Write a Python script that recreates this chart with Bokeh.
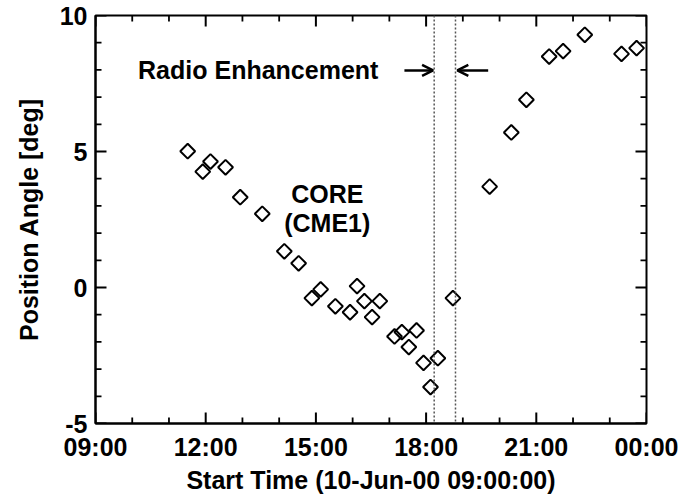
import numpy as np
from bokeh.plotting import figure
from bokeh.models import (Range1d, FixedTicker, Span, Arrow, OpenHead,
                          ColumnDataSource, Label)
from bokeh.embed import file_html
from bokeh.resources import INLINE

# ---- data (hours after 00:00 on 10-Jun-00; position angle in deg) ----
start_hours = [11.51, 11.92, 12.13, 12.54, 12.94, 13.54, 14.14, 14.53, 14.89, 15.13,
               15.53, 15.93, 16.12, 16.32, 16.53, 16.74, 17.14, 17.34, 17.53, 17.74,
               17.93, 18.12, 18.32, 18.73, 19.73, 20.32, 20.73, 21.35, 21.73, 22.32,
               23.32, 23.73]
position_angle = [5.01, 4.26, 4.63, 4.42, 3.32, 2.71, 1.33, 0.89, -0.39, -0.07,
                  -0.69, -0.91, 0.05, -0.50, -1.09, -0.50, -1.80, -1.64, -2.19, -1.58,
                  -2.77, -3.66, -2.60, -0.39, 3.71, 5.70, 6.90, 8.49, 8.69, 9.29,
                  8.59, 8.80]

x_major_ticks = [9, 12, 15, 18, 21, 24]
x_minor_ticks = [10, 11, 13, 14, 16, 17, 19, 20, 22, 23]
x_tick_labels = ["09:00", "12:00", "15:00", "18:00", "21:00", "00:00"]
y_major_ticks = [-5, 0, 5, 10]
y_minor_ticks = [-4, -3, -2, -1, 1, 2, 3, 4, 6, 7, 8, 9]
y_tick_labels = ["-5", "0", "5", "10"]

radio_start = 18.22
radio_end = 18.80

X0, X1, Y0, Y1 = 9, 24, -5, 10

FONT = "Liberation Sans"
FS = "25px"

W, H = 687, 496
FL, FR, FT, FB = 95, 646, 15, 423   # frame edges (figure coords)

p = figure(width=W, height=H, output_backend="svg", toolbar_location=None,
           x_range=Range1d(X0, X1), y_range=Range1d(Y0, Y1),
           min_border_left=FL, min_border_right=W - FR,
           min_border_top=FT, min_border_bottom=H - FB)
p.xgrid.visible = False
p.ygrid.visible = False
p.outline_line_color = "black"
p.outline_line_width = 2
p.background_fill_color = "white"
p.border_fill_color = "white"

for ax in (p.xaxis[0], p.yaxis[0]):
    ax.axis_line_width = 2
    ax.axis_line_color = "black"
    ax.major_tick_in = 0
    ax.major_tick_out = 0
    ax.minor_tick_in = 0
    ax.minor_tick_out = 0
    ax.major_label_text_font = FONT
    ax.major_label_text_font_size = FS
    ax.major_label_text_font_style = "bold"
    ax.major_label_text_color = "black"
    ax.axis_label_text_font = FONT
    ax.axis_label_text_font_size = FS
    ax.axis_label_text_font_style = "bold"
    ax.axis_label_text_color = "black"

p.xaxis.ticker = FixedTicker(ticks=x_major_ticks)
p.yaxis.ticker = FixedTicker(ticks=y_major_ticks)
p.xaxis.major_label_overrides = {t: l for t, l in zip(x_major_ticks, x_tick_labels)}
p.yaxis.major_label_overrides = {t: l for t, l in zip(y_major_ticks, y_tick_labels)}
p.xaxis.axis_label = "Start Time (10-Jun-00 09:00:00)"
p.yaxis.axis_label = "Position Angle [deg]"
p.xaxis.major_label_standoff = 9
p.xaxis.axis_label_standoff = 2
p.yaxis.major_label_standoff = 8
p.yaxis.axis_label_standoff = 14

# inward tick marks on all four sides (lengths converted from pixels to data units)
dx = (X1 - X0) / (FR - FL)
dy = (Y1 - Y0) / (FB - FT)
for xs, ys, L, w in ((x_major_ticks, y_major_ticks, 11, 2.0),
                     (x_minor_ticks, y_minor_ticks, 6, 1.8)):
    xs = np.array(xs, dtype=float)
    ys = np.array(ys, dtype=float)
    nx, ny = len(xs), len(ys)
    p.segment(x0=xs, y0=np.full(nx, Y0), x1=xs, y1=np.full(nx, Y0 + L * dy),
              line_color="black", line_width=w)
    p.segment(x0=xs, y0=np.full(nx, Y1), x1=xs, y1=np.full(nx, Y1 - L * dy),
              line_color="black", line_width=w)
    p.segment(x0=np.full(ny, X0), y0=ys, x1=np.full(ny, X0 + L * dx), y1=ys,
              line_color="black", line_width=w)
    p.segment(x0=np.full(ny, X1), y0=ys, x1=np.full(ny, X1 - L * dx), y1=ys,
              line_color="black", line_width=w)

# dotted lines marking the radio enhancement
for loc in (radio_start, radio_end):
    p.add_layout(Span(location=loc, dimension="height", line_color="#555555",
                      line_dash="2 2", line_width=1.5))

src = ColumnDataSource(dict(x=start_hours, y=position_angle))
p.scatter("x", "y", source=src, marker="square", angle=np.pi / 4, size=10.5,
          fill_color=None, line_color="black", line_width=2)

# annotations
p.add_layout(Arrow(end=OpenHead(size=11, line_width=2.5, line_color="black"),
                   x_start=17.41, y_start=7.98, x_end=18.19, y_end=7.98,
                   line_width=2.5, line_color="black"))
p.add_layout(Arrow(end=OpenHead(size=11, line_width=2.5, line_color="black"),
                   x_start=19.69, y_start=7.98, x_end=18.85, y_end=7.98,
                   line_width=2.5, line_color="black"))

for txt, x, y in [("Radio Enhancement", 13.43, 7.98), ("CORE", 15.31, 3.44), ("(CME1)", 15.31, 2.37)]:
    p.add_layout(Label(x=x, y=y, text=txt, text_align="center", text_baseline="middle",
                       text_font=FONT, text_font_size=FS, text_font_style="bold",
                       text_color="black"))

open("out.html", "w").write(file_html(p, INLINE))
